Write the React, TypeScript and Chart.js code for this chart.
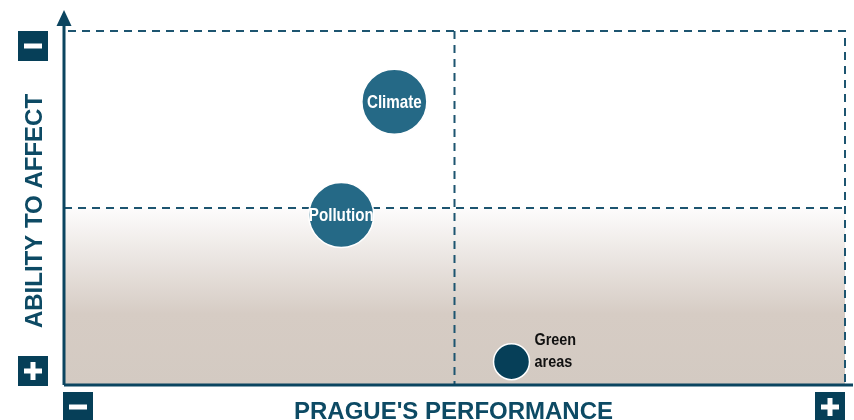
import React, { useEffect, useRef } from "react";
import { Chart, registerables } from "chart.js";

Chart.register(...registerables);

const issues = ["Climate", "Pollution", "Green areas"];
const performance = [42.3, 35.5, 57.3];
const ability = [80.0, 48.0, 6.6];
const bubbleSize = [32.5, 32.5, 18];
const bubbleColors = ["#256986", "#256986", "#063f58"];
const xTitle = "PRAGUE'S PERFORMANCE";
const yTitle = "ABILITY TO AFFECT";
const midX = 50;
const midY = 50;

const DARK = "#0b4560";
const DASH = "#1d5570";

function drawBox(ctx: CanvasRenderingContext2D, cx: number, cy: number, plus: boolean) {
  ctx.save();
  ctx.fillStyle = "#063f58";
  ctx.fillRect(cx - 15, cy - 15, 30, 30);
  ctx.fillStyle = "#ffffff";
  ctx.fillRect(cx - 9, cy - 2.5, 18, 5);
  if (plus) ctx.fillRect(cx - 2.5, cy - 9, 5, 18);
  ctx.restore();
}

const quadrantPlugin = {
  id: "quadrant",
  beforeDatasetsDraw(chart: any) {
    const { ctx, chartArea, scales } = chart;
    const { left, right, top, bottom } = chartArea;
    const mx = scales.x.getPixelForValue(midX);
    const my = scales.y.getPixelForValue(midY);
    ctx.save();
    const g = ctx.createLinearGradient(0, my, 0, bottom);
    g.addColorStop(0, "#fdfcfc");
    g.addColorStop(0.6, "#d6ccc4");
    g.addColorStop(1, "#d3cac2");
    ctx.fillStyle = g;
    ctx.fillRect(left, my, right - left, bottom - my);

    ctx.strokeStyle = DASH;
    ctx.lineWidth = 2;
    ctx.setLineDash([8, 6]);
    ctx.beginPath();
    ctx.moveTo(left + 4, top);
    ctx.lineTo(right, top);
    ctx.lineTo(right, bottom);
    ctx.moveTo(left, my);
    ctx.lineTo(right, my);
    ctx.moveTo(mx, top);
    ctx.lineTo(mx, bottom);
    ctx.stroke();
    ctx.setLineDash([]);

    ctx.strokeStyle = DARK;
    ctx.lineWidth = 3;
    ctx.beginPath();
    ctx.moveTo(left, bottom);
    ctx.lineTo(chart.width - 1, bottom);
    ctx.moveTo(left, bottom);
    ctx.lineTo(left, top - 8);
    ctx.stroke();
    ctx.fillStyle = DARK;
    ctx.beginPath();
    ctx.moveTo(left, top - 21);
    ctx.lineTo(left - 7.5, top - 5);
    ctx.lineTo(left + 7.5, top - 5);
    ctx.closePath();
    ctx.fill();
    ctx.restore();
  },
  afterDatasetsDraw(chart: any) {
    const { ctx, chartArea } = chart;
    const meta = chart.getDatasetMeta(0);
    ctx.save();
    ctx.textBaseline = "middle";
    meta.data.forEach((el: any, i: number) => {
      const name = issues[i];
      const words = name.split(" ");
      if (words.length > 1) {
        ctx.fillStyle = "#111111";
        ctx.font = "bold 16px 'Liberation Sans', Arial, sans-serif";
        ctx.textAlign = "left";
        words.forEach((w: string, k: number) => {
          ctx.save();
          ctx.translate(el.x + 23, el.y - 21 + k * 22);
          ctx.scale(0.9, 1);
          ctx.fillText(w, 0, 0);
          ctx.restore();
        });
      } else {
        ctx.fillStyle = "#ffffff";
        ctx.font = "bold 19px 'Liberation Sans', Arial, sans-serif";
        ctx.textAlign = "center";
        ctx.save();
        ctx.translate(el.x, el.y + 1);
        ctx.scale(0.8, 1);
        ctx.fillText(name, 0, 0);
        ctx.restore();
      }
    });

    ctx.fillStyle = "#0d4a64";
    ctx.font = "bold 24px 'Liberation Sans', Arial, sans-serif";
    ctx.textAlign = "center";
    ctx.textBaseline = "alphabetic";
    ctx.fillText(xTitle, (chartArea.left + chartArea.right) / 2 - 1, 419);
    ctx.save();
    ctx.translate(42, (chartArea.top + chartArea.bottom) / 2 + 3);
    ctx.rotate(-Math.PI / 2);
    ctx.fillText(yTitle, 0, 0);
    ctx.restore();

    drawBox(ctx, 33, 46, false);
    drawBox(ctx, 33, 371, true);
    drawBox(ctx, 78, 407, false);
    drawBox(ctx, 830, 407, true);
    ctx.restore();
  },
};

export default function App() {
  const ref = useRef<HTMLCanvasElement>(null);
  useEffect(() => {
    if (!ref.current) return;
    const chart = new Chart(ref.current, {
      type: "bubble",
      data: {
        datasets: [
          {
            label: "Issues",
            data: issues.map((_, i) => ({ x: performance[i], y: ability[i], r: bubbleSize[i] })),
            backgroundColor: bubbleColors,
            borderColor: "#ffffff",
            borderWidth: 1.5,
          },
        ],
      },
      options: {
        responsive: false,
        animation: false,
        layout: { autoPadding: false, padding: { left: 64, right: 9, top: 31, bottom: 35 } },
        scales: {
          x: { display: false, min: 0, max: 100 },
          y: { display: false, min: 0, max: 100 },
        },
        plugins: { legend: { display: false }, tooltip: { enabled: false }, title: { display: false } },
      },
      plugins: [quadrantPlugin],
    });
    return () => chart.destroy();
  }, []);
  return (
    <div style={{ position: "fixed", left: 0, top: 0, width: 854, height: 420, background: "#fff" }}>
      <canvas ref={ref} width={854} height={420} style={{ display: "block" }} />
    </div>
  );
}
